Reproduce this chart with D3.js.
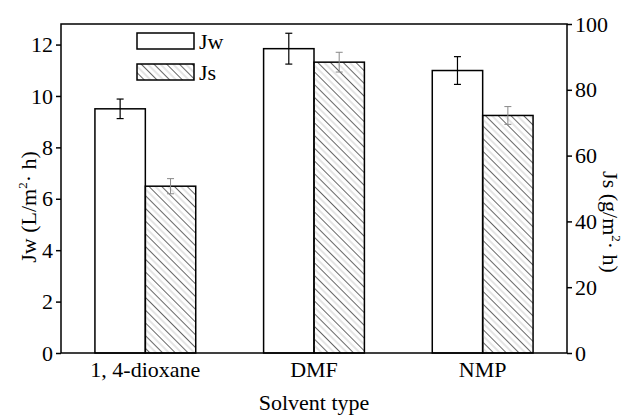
<html>
<head>
<style>
    body { margin: 0; background: #fff; }
    text { font-family: "Liberation Serif", "Times New Roman", serif; fill: #000; }
</style>
</head>
<body>
<svg width="628" height="417"></svg>
<script src="https://cdn.jsdelivr.net/npm/d3@7/dist/d3.min.js"></script>
<script>
    const categories = ['1, 4-dioxane', 'DMF', 'NMP'];
    const jwValues = [9.5, 11.84, 10.99];
    const jwErrors = [0.38, 0.6, 0.54];
    const jsValues = [50.7, 88.4, 72.2];
    const jsErrors = [2.3, 3.0, 2.7];
    const leftTicks = [0, 2, 4, 6, 8, 10, 12];
    const rightTicks = [0, 20, 40, 60, 80, 100];

    const svg = d3.select('svg');
    const m = {left: 61, right: 61, top: 24, bottom: 64};
    const W = 628, H = 417;
    const fs = '22px';

    const x = d3.scaleBand().domain(categories).range([m.left, W - m.right]);
    const yL = d3.scaleLinear().domain([0, 12.8]).range([H - m.bottom, m.top]);
    const yR = d3.scaleLinear().domain([0, 100]).range([H - m.bottom, m.top]);
    const barW = 50.4;

    // hatch pattern, lines running top-left to bottom-right
    const pat = svg.append('defs').append('pattern')
        .attr('id', 'hatch')
        .attr('patternUnits', 'userSpaceOnUse')
        .attr('width', 9).attr('height', 9)
        .attr('patternTransform', 'rotate(-45)');
    pat.append('line').attr('x1', 0.5).attr('y1', 0).attr('x2', 0.5).attr('y2', 9)
        .attr('stroke', '#555').attr('stroke-width', 0.9);
    pat.append('line').attr('x1', 5).attr('y1', 0).attr('x2', 5).attr('y2', 9)
        .attr('stroke', '#c4c4c4').attr('stroke-width', 0.9);

    // Jw bars
    svg.selectAll('.jw').data(categories).enter().append('rect')
        .attr('x', d => x(d) + x.bandwidth() / 2 - barW)
        .attr('y', (d, i) => yL(jwValues[i]))
        .attr('width', barW)
        .attr('height', (d, i) => yL(0) - yL(jwValues[i]))
        .attr('fill', '#fff').attr('stroke', '#000').attr('stroke-width', 1.5);

    // Js bars
    svg.selectAll('.js').data(categories).enter().append('rect')
        .attr('x', d => x(d) + x.bandwidth() / 2)
        .attr('y', (d, i) => yR(jsValues[i]))
        .attr('width', barW)
        .attr('height', (d, i) => yR(0) - yR(jsValues[i]))
        .attr('fill', 'url(#hatch)').attr('stroke', '#000').attr('stroke-width', 1.5);

    function errBar (cx, lo, hi, color, w) {
        const g = svg.append('g').attr('stroke', color).attr('stroke-width', w);
        g.append('line').attr('x1', cx).attr('x2', cx).attr('y1', lo).attr('y2', hi);
        g.append('line').attr('x1', cx - 3.5).attr('x2', cx + 3.5).attr('y1', lo).attr('y2', lo);
        g.append('line').attr('x1', cx - 3.5).attr('x2', cx + 3.5).attr('y1', hi).attr('y2', hi);
    }
    categories.forEach((c, i) => {
        const cx1 = x(c) + x.bandwidth() / 2 - barW / 2;
        errBar(cx1, yL(jwValues[i] - jwErrors[i]), yL(jwValues[i] + jwErrors[i]), '#000', 1.2);
        const cx2 = x(c) + x.bandwidth() / 2 + barW / 2;
        errBar(cx2, yR(jsValues[i] - jsErrors[i]), yR(jsValues[i] + jsErrors[i]), '#888', 1);
    });

    // frame
    svg.append('rect')
        .attr('x', m.left).attr('y', m.top)
        .attr('width', W - m.left - m.right).attr('height', H - m.top - m.bottom)
        .attr('fill', 'none').attr('stroke', '#000').attr('stroke-width', 1.5);

    // axes
    const axL = svg.append('g').attr('transform', `translate(${m.left},0)`)
        .call(d3.axisLeft(yL).tickValues(leftTicks).tickSize(5).tickPadding(3));
    const axR = svg.append('g').attr('transform', `translate(${W - m.right},0)`)
        .call(d3.axisRight(yR).tickValues(rightTicks).tickSize(5).tickPadding(3));
    const axB = svg.append('g').attr('transform', `translate(0,${H - m.bottom})`)
        .call(d3.axisBottom(x).tickSize(0).tickPadding(8));
    [axL, axR, axB].forEach(a => {
        a.attr('font-size', null).attr('font-family', null);
        a.select('.domain').remove();
        a.selectAll('line').attr('stroke', '#000').attr('stroke-width', 1.5);
        a.selectAll('text').style('font-size', fs).attr('fill', '#000');
    });

    // axis titles
    const tl = svg.append('text')
        .attr('transform', 'translate(36,207) rotate(-90)')
        .attr('text-anchor', 'middle').style('font-size', fs);
    tl.append('tspan').text('Jw (L/m');
    tl.append('tspan').attr('dy', -9).style('font-size', '13px').text('2');
    tl.append('tspan').attr('dy', 9).text('· h)');

    const tr = svg.append('text')
        .attr('transform', 'translate(603,222) rotate(90)')
        .attr('text-anchor', 'middle').style('font-size', fs);
    tr.append('tspan').text('Js (g/m');
    tr.append('tspan').attr('dy', -9).style('font-size', '13px').text('2');
    tr.append('tspan').attr('dy', 9).text('· h)');

    svg.append('text').attr('x', 314).attr('y', 410)
        .attr('text-anchor', 'middle').style('font-size', fs).text('Solvent type');

    // legend
    const legend = [{label: 'Jw', fill: '#fff'}, {label: 'Js', fill: 'url(#hatch)'}];
    legend.forEach((d, i) => {
        svg.append('rect').attr('x', 137).attr('y', 33 + i * 31)
            .attr('width', 57).attr('height', 16)
            .attr('fill', d.fill).attr('stroke', '#000').attr('stroke-width', 1.5);
        svg.append('text').attr('x', 199).attr('y', 49 + i * 31)
            .style('font-size', fs).text(d.label);
    });
</script>
</body>
</html>
